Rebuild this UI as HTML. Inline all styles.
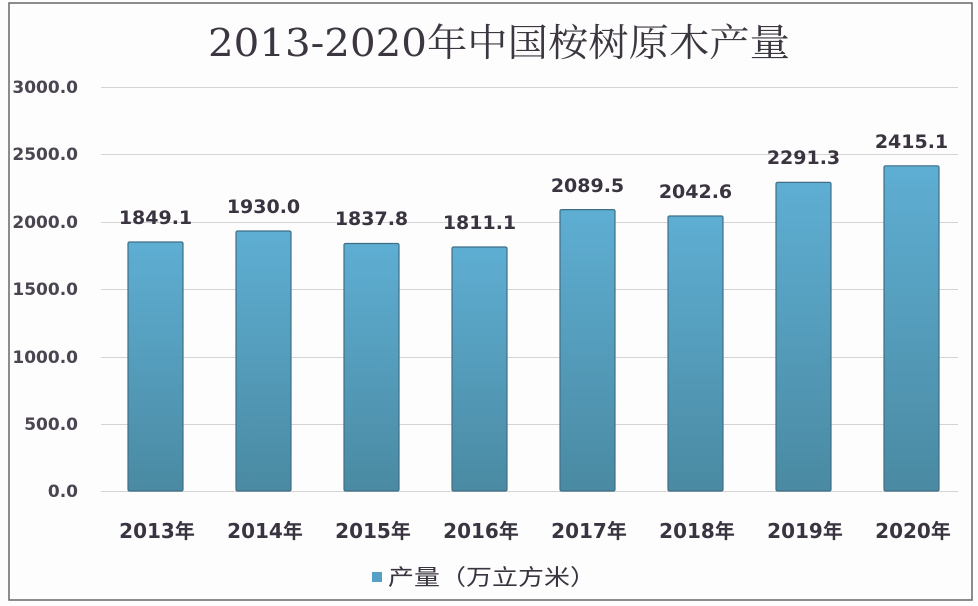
<!DOCTYPE html>
<html><head><meta charset="utf-8"><style>
html,body{margin:0;padding:0;background:#fff;}
svg{display:block;}
</style></head><body>
<svg width="978" height="606" viewBox="0 0 978 606" xmlns="http://www.w3.org/2000/svg">
<defs>
<linearGradient id="g" x1="0" y1="0" x2="0" y2="1">
<stop offset="0" stop-color="#5eaed3"/>
<stop offset="1" stop-color="#4a8aa2"/>
</linearGradient>
</defs>
<rect x="0" y="0" width="978" height="606" fill="#fdfdfd"/>
<rect x="9" y="3" width="963" height="597" fill="none" stroke="#666" stroke-width="1.5"/>
<text x="208" y="56" textLength="582" lengthAdjust="spacingAndGlyphs" font-family="DejaVu Serif, 'Noto Serif CJK SC', serif" font-size="38" fill="#3c3640">2013-2020年中国桉树原木产量</text>
<g stroke="#d4d4d4" stroke-width="1">
<line x1="101" y1="87.5" x2="958" y2="87.5"/>
<line x1="101" y1="154.5" x2="958" y2="154.5"/>
<line x1="101" y1="222.5" x2="958" y2="222.5"/>
<line x1="101" y1="289.5" x2="958" y2="289.5"/>
<line x1="101" y1="357.5" x2="958" y2="357.5"/>
<line x1="101" y1="424.5" x2="958" y2="424.5"/>
<line x1="101" y1="491.5" x2="958" y2="491.5"/>
</g>
<g font-family="DejaVu Sans, sans-serif" font-size="17" font-weight="bold" fill="#4a4550" text-anchor="end">
<text x="78" y="93">3000.0</text>
<text x="78" y="160">2500.0</text>
<text x="78" y="228">2000.0</text>
<text x="78" y="295">1500.0</text>
<text x="78" y="363">1000.0</text>
<text x="78" y="430">500.0</text>
<text x="78" y="497">0.0</text>
</g>
<g fill="url(#g)" stroke="#3f6f86" stroke-width="1.2">
<rect x="128" y="242" width="55" height="249" rx="1.5"/>
<rect x="236" y="231" width="55" height="260" rx="1.5"/>
<rect x="344" y="243.5" width="55" height="247.5" rx="1.5"/>
<rect x="452" y="247" width="55" height="244" rx="1.5"/>
<rect x="560" y="209.6" width="55" height="281.4" rx="1.5"/>
<rect x="668" y="216" width="55" height="275" rx="1.5"/>
<rect x="776" y="182.4" width="55" height="308.6" rx="1.5"/>
<rect x="884" y="165.8" width="55" height="325.2" rx="1.5"/>
</g>
<g font-family="DejaVu Sans, sans-serif" font-size="19" font-weight="bold" fill="#3a3340" text-anchor="middle">
<text x="155.5" y="224">1849.1</text>
<text x="263.5" y="213">1930.0</text>
<text x="371.5" y="225">1837.8</text>
<text x="479.5" y="229">1811.1</text>
<text x="587.5" y="192">2089.5</text>
<text x="695.5" y="198">2042.6</text>
<text x="803.5" y="164">2291.3</text>
<text x="911.5" y="148">2415.1</text>
</g>
<g font-family="DejaVu Sans, 'Noto Sans CJK SC', sans-serif" font-size="20" font-weight="bold" fill="#3a3340" text-anchor="middle">
<text x="157" y="538">2013年</text>
<text x="265" y="538">2014年</text>
<text x="373" y="538">2015年</text>
<text x="481" y="538">2016年</text>
<text x="589" y="538">2017年</text>
<text x="697" y="538">2018年</text>
<text x="805" y="538">2019年</text>
<text x="913" y="538">2020年</text>
</g>
<rect x="372" y="572" width="10" height="10" fill="#55a0c4"/>
<text x="388" y="585" textLength="208" lengthAdjust="spacingAndGlyphs" font-family="'Noto Sans CJK SC', sans-serif" font-size="22" fill="#3a3340">产量（万立方米）</text>
</svg>
</body></html>
